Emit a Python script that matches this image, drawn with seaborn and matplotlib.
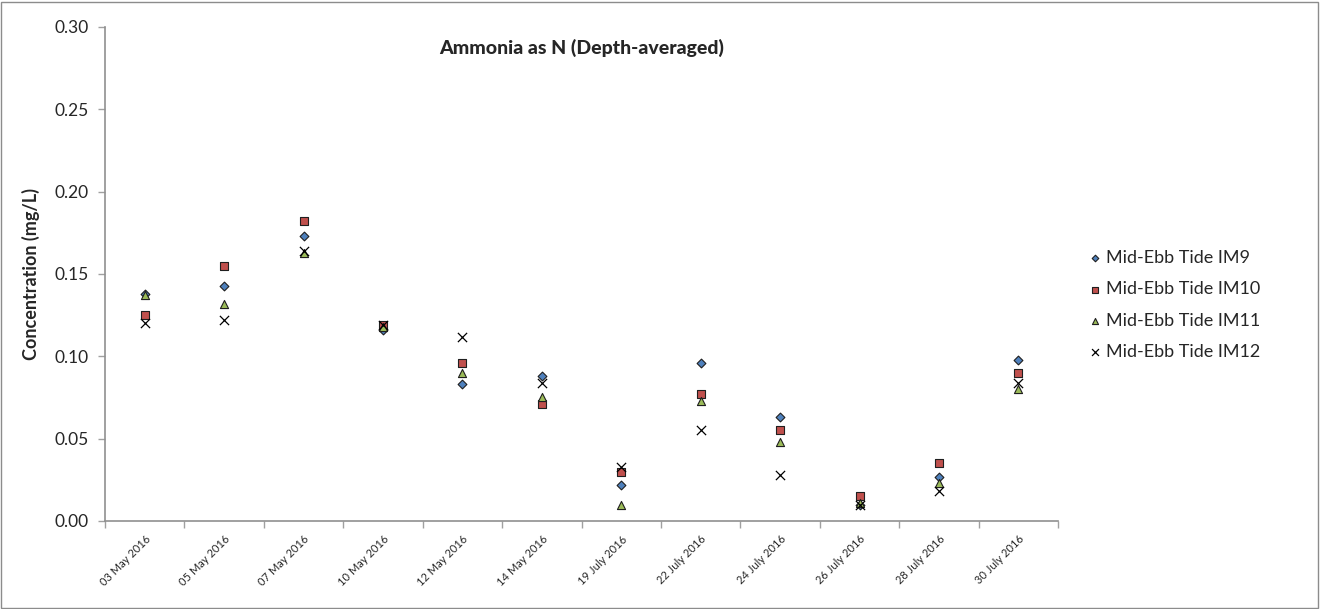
import matplotlib
matplotlib.use("Agg")
import matplotlib.pyplot as plt
from matplotlib.patches import Rectangle
from matplotlib.ticker import FixedLocator, FormatStrFormatter
import seaborn as sns
import pandas as pd

dates = ["03 May 2016", "05 May 2016", "07 May 2016", "10 May 2016", "12 May 2016",
         "14 May 2016", "19 July 2016", "22 July 2016", "24 July 2016", "26 July 2016",
         "28 July 2016", "30 July 2016"]

im9 = [0.138, 0.143, 0.173, 0.116, 0.083, 0.088, 0.022, 0.096, 0.063, 0.010, 0.027, 0.098]
im10 = [0.125, 0.155, 0.182, 0.119, 0.096, 0.071, 0.030, 0.077, 0.055, 0.015, 0.035, 0.090]
im11 = [0.137, 0.132, 0.163, 0.118, 0.090, 0.075, 0.010, 0.073, 0.048, 0.011, 0.023, 0.080]
im12 = [0.120, 0.122, 0.164, 0.119, 0.112, 0.084, 0.033, 0.055, 0.028, 0.010, 0.018, 0.084]

series_names = ["Mid-Ebb Tide IM9", "Mid-Ebb Tide IM10", "Mid-Ebb Tide IM11", "Mid-Ebb Tide IM12"]
y_ticks = [0.00, 0.05, 0.10, 0.15, 0.20, 0.25, 0.30]

sns.set_style("white")
plt.rcParams["font.family"] = ["Lato", "DejaVu Sans"]

fig = plt.figure(figsize=(13.21, 6.09), dpi=100)
ax = fig.add_axes([0.0795, 0.1445, 0.7215, 0.8112])

styles = [
    dict(marker="D", color="#4F81BD", edgecolor="#1F1F1F", s=20, linewidth=0.8),
    dict(marker="s", color="#C0504D", edgecolor="#1F1F1F", s=38, linewidth=0.8),
    dict(marker="^", color="#9BBB59", edgecolor="#1F1F1F", s=34, linewidth=0.8),
    dict(marker="x", color="#000000", s=44, linewidth=0.9),
]

for name, vals, st in zip(series_names, [im9, im10, im11, im12], styles):
    df = pd.DataFrame({"date": dates, "value": vals})
    sns.scatterplot(data=df, x="date", y="value", ax=ax, label=name, zorder=3, **st)

ax.set_xlim(-0.5, len(dates) - 0.5)
ax.set_ylim(0, 0.30)
ax.set_yticks(y_ticks)
ax.yaxis.set_major_formatter(FormatStrFormatter("%.2f"))
ax.set_xticks(range(len(dates)))
ax.set_xticklabels(dates, rotation=45, ha="right", rotation_mode="anchor", fontsize=8)
ax.xaxis.set_minor_locator(FixedLocator([i - 0.5 for i in range(len(dates) + 1)]))
ax.tick_params(axis="x", which="major", length=0, pad=9)
ax.tick_params(axis="x", which="minor", length=5, color="#A0A0A0", width=1, direction="out")
ax.tick_params(axis="y", length=5, color="#A0A0A0", width=1, direction="out", labelsize=12.5, pad=7)
ax.xaxis.set_tick_params(bottom=True, which="minor")
ax.yaxis.set_tick_params(left=True)

for side in ["top", "right"]:
    ax.spines[side].set_visible(False)
for side in ["left", "bottom"]:
    ax.spines[side].set_color("#909090")
    ax.spines[side].set_linewidth(1.2)

ax.set_xlabel("")
ax.set_ylabel("Concentration (mg/L)", fontsize=13, fontweight="bold", labelpad=10)
ax.text(0.5, 0.975, "Ammonia as N (Depth-averaged)", transform=ax.transAxes,
        ha="center", va="top", fontsize=14, fontweight=900)

ax.legend(loc="center left", bbox_to_anchor=(0.822, 0.499), bbox_transform=fig.transFigure,
          frameon=False, fontsize=13, handletextpad=0.1, labelspacing=0.85,
          handlelength=1.0, borderaxespad=0, borderpad=0, markerscale=0.75)

fig.patches.append(Rectangle((0.001, 0.002), 0.997, 0.995, transform=fig.transFigure,
                             fill=False, edgecolor="#8C8C8C", linewidth=1))

fig.savefig("out.png", dpi=100)
